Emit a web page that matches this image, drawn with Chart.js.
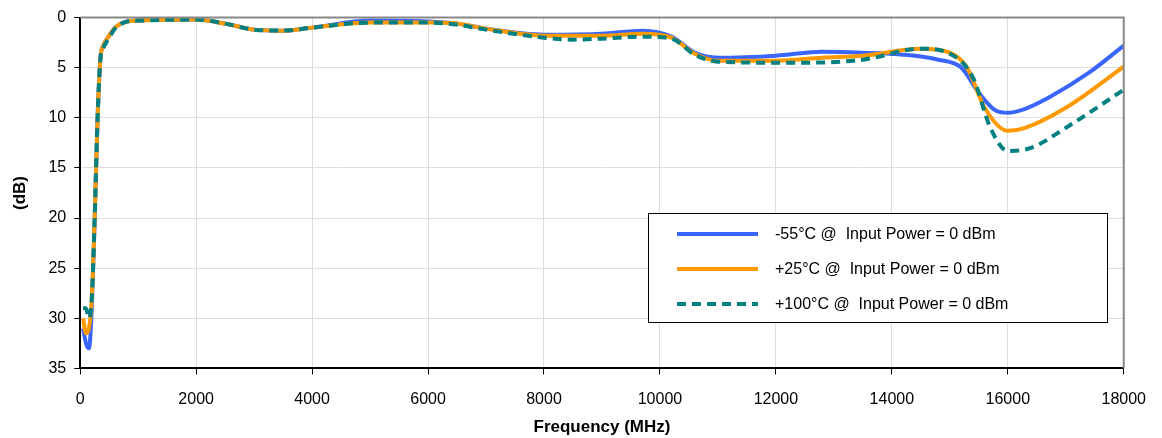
<!DOCTYPE html><html><head><script src="https://cdn.jsdelivr.net/npm/chart.js"></script>
<style>body{margin:0;background:#fff}</style></head><body><canvas id="c" width="1162" height="438"></canvas>
<script>
const seriesLabels=['-55°C @  Input Power = 0 dBm','+25°C @  Input Power = 0 dBm','+100°C @  Input Power = 0 dBm'];
const freqA=[50,100,150,200,250,300,350,400,500,600,800,1000,2000,2500,3000,3500,4000,5000,6000,6500,7000,8000,9000,9700,10200,10600,11000,12000,12800,13500,14200,14800,15200,15500,15800,16000,16300,16700,17400,18000];
const lossA=[31,32.5,33,29,20,10,4,2.8,1.8,1,0.4,0.3,0.2,0.6,1.2,1.3,1.0,0.3,0.4,0.6,1.1,1.7,1.6,1.3,1.9,3.5,4.0,3.8,3.4,3.5,3.7,4.2,5.0,7.5,9.3,9.5,9.1,8,5.5,2.8];
const freqB=[50,100,150,200,250,300,350,400,500,600,800,1000,2000,2500,3000,3500,4000,5000,6000,6500,7000,8000,9000,9700,10200,10600,11000,12000,12800,13500,14500,15000,15300,15600,16000,16300,17000,18000];
const lossB=[30,31.5,31,28,20,10,4,2.8,1.8,1,0.4,0.3,0.2,0.6,1.2,1.3,1.0,0.5,0.5,0.6,1.1,1.8,1.8,1.6,2.0,3.6,4.3,4.3,4.0,3.8,3.1,3.5,5,9,11.3,11,9,4.9];
const freqC=[50,100,150,200,250,300,350,400,500,600,800,1000,2000,2500,3000,3500,4000,5000,6000,6500,7000,8000,8500,9000,9700,10200,10600,11000,12000,12500,13500,14500,15000,15400,15700,16000,16400,17000,18000];
const lossC=[29,29,30,28,20,10,4,3,2,1.1,0.4,0.3,0.2,0.6,1.2,1.3,1.0,0.5,0.5,0.7,1.2,2.0,2.2,2.1,1.9,2.1,3.7,4.4,4.5,4.5,4.2,3.1,3.6,6,11,13.3,13,11,7.2];
const mk=(f,l)=>f.map((x,i)=>({x,y:l[i]}));
const F='"Liberation Sans", Arial, sans-serif';
const legendPlugin={id:'lg',afterDraw(ch){const c=ch.ctx;c.save();c.fillStyle='#fff';c.strokeStyle='#000';c.lineWidth=1;
c.fillRect(648.5,213.5,459,109);c.strokeRect(648.5,213.5,459,109);
const cols=['#3a66ff','#ff9900','#008080'];
for(let i=0;i<3;i++){const y=234+i*35;c.beginPath();c.strokeStyle=cols[i];c.lineWidth=4;c.setLineDash(i==2?[9,6]:[]);c.moveTo(677,y);c.lineTo(758,y);c.stroke();
c.setLineDash([]);c.fillStyle='#000';c.font='16px '+F;c.textBaseline='middle';c.fillText(seriesLabels[i],775,y+1);}
c.restore();}};
new Chart(document.getElementById('c'),{type:'line',data:{datasets:[
{label:seriesLabels[0],order:3,data:mk(freqA,lossA),borderColor:'#3a66ff',borderWidth:4,pointRadius:0,cubicInterpolationMode:'monotone'},
{label:seriesLabels[1],order:2,data:mk(freqB,lossB),borderColor:'#ff9900',borderWidth:4,pointRadius:0,cubicInterpolationMode:'monotone'},
{label:seriesLabels[2],order:1,data:mk(freqC,lossC),borderColor:'#008080',borderWidth:4,borderDash:[9,6],pointRadius:0,cubicInterpolationMode:'monotone'}]},
options:{responsive:false,animation:false,layout:{padding:{left:6,right:32,top:15,bottom:0}},
plugins:{legend:{display:false},tooltip:{enabled:false}},
scales:{x:{type:'linear',min:0,max:18000,ticks:{stepSize:2000,maxRotation:0,padding:16,color:'#000',font:{family:F,size:16},callback:v=>String(v)},grid:{color:'#ddd',tickColor:'#000',tickLength:6},border:{color:'#000',width:2},
title:{display:true,text:'Frequency (MHz)',color:'#000',font:{family:F,size:17,weight:'bold'},padding:{top:-8,bottom:0}}},
y:{reverse:true,min:0,max:35,ticks:{stepSize:5,padding:8,color:'#000',font:{family:F,size:16},callback:v=>String(v)},grid:{color:'#ddd',tickColor:'#000',tickLength:6},border:{color:'#000',width:2},
title:{display:true,text:'(dB)',color:'#000',font:{family:F,size:17,weight:'bold'},padding:{bottom:10}}}}},
plugins:[legendPlugin,{id:'frame',afterDraw(ch){const a=ch.chartArea,c=ch.ctx;c.save();c.strokeStyle='#888';c.lineWidth=2;c.beginPath();c.moveTo(a.left,a.top);c.lineTo(a.right,a.top);c.lineTo(a.right,a.bottom);c.stroke();c.restore();}}]});
</script></body></html>
